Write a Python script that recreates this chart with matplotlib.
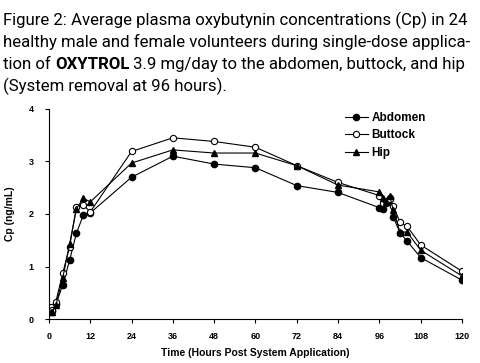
import matplotlib
matplotlib.use("Agg")
import matplotlib.pyplot as plt
import numpy as np

# sampling times (hours post system application)
hours = [0.5, 1, 2, 4, 6, 8, 10, 12, 24, 36, 48, 60, 72, 84,
         96, 97, 98, 99, 100, 102, 104, 108, 120]

# mean Cp (ng/mL) per application site
abdomen = [0.15, 0.15, 0.28, 0.65, 1.12, 1.64, 1.98, 2.02, 2.70, 3.10, 2.95, 2.88, 2.54, 2.41,
           2.12, 2.10, 2.20, 2.30, 1.95, 1.64, 1.49, 1.17, 0.74]
buttock = [0.23, 0.17, 0.33, 0.87, 1.38, 2.14, 2.17, 2.04, 3.19, 3.45, 3.38, 3.27, 2.92, 2.60,
           2.35, 2.20, 2.25, 2.28, 2.16, 1.84, 1.77, 1.41, 0.91]
hip = [0.14, 0.14, 0.26, 0.78, 1.43, 2.10, 2.30, 2.23, 2.97, 3.22, 3.16, 3.16, 2.92, 2.55,
       2.42, 2.30, 2.22, 2.35, 2.08, 1.65, 1.66, 1.31, 0.82]

xticks = np.arange(0, 121, 12)
yticks = [0, 1, 2, 3, 4]

caption = [
    "Figure 2: Average plasma oxybutynin concentrations (Cp) in 24",
    "healthy male and female volunteers during single-dose applica-",
    ("tion of ", "OXYTROL", " 3.9 mg/day to the abdomen, buttock, and hip"),
    "(System removal at 96 hours).",
]

title_font = ["Roboto", "DejaVu Sans"]
lab_font = ["Liberation Sans", "DejaVu Sans"]

fig = plt.figure(figsize=(4.8, 3.63), dpi=100)
ax = fig.add_axes([0.102, 0.121, 0.8605, 0.579])

ax.plot(hours, abdomen, color="black", lw=0.8, marker="o", ms=4.5,
        mfc="black", mec="black", label="Abdomen")
ax.plot(hours, buttock, color="black", lw=0.8, marker="o", ms=4.5,
        mfc="white", mec="black", mew=0.8, label="Buttock")
ax.plot(hours, hip, color="black", lw=0.8, marker="^", ms=5,
        mfc="black", mec="black", label="Hip")

ax.set_xlim(0, 120)
ax.set_ylim(0, 4)
ax.set_xticks(xticks)
ax.set_yticks(yticks)
ax.spines["top"].set_visible(False)
ax.spines["right"].set_visible(False)
ax.tick_params(direction="out", length=3, width=0.8, labelsize=6.5)
ax.tick_params(axis="y", pad=8)
ax.tick_params(axis="x", pad=6)
for lbl in ax.get_xticklabels() + ax.get_yticklabels():
    lbl.set_fontweight("bold")
    lbl.set_family(lab_font)

ax.set_xlabel("Time (Hours Post System Application)", fontsize=7.5,
              fontweight="bold", family=lab_font, labelpad=5)
ax.set_ylabel("Cp (ng/mL)", fontsize=7.5, fontweight="bold", family=lab_font, labelpad=10)

leg = ax.legend(loc="upper left", bbox_to_anchor=(0.69, 1.035), frameon=False,
                prop={"size": 8.5, "weight": "bold", "family": lab_font},
                handlelength=2.0, handletextpad=0.3, labelspacing=0.45)

# caption above the chart, fitted to the reference line width
renderer = fig.canvas.get_renderer()
x0 = 0.006
target_w = 467
fs = 13
probe = fig.text(x0, 0.5, caption[0], fontsize=fs, family=title_font, fontstretch="condensed")
w = probe.get_window_extent(renderer).width
probe.remove()
fs = fs * target_w / w

baselines = [25, 47, 69, 91]
for line, yb in zip(caption, baselines):
    y = 1 - yb / 363
    if isinstance(line, tuple):
        x = x0
        for i, part in enumerate(line):
            t = fig.text(x, y, part, fontsize=fs, family=title_font, fontstretch="condensed",
                         fontweight="bold" if i == 1 else "normal", va="baseline")
            x = t.get_window_extent(renderer).x1 / fig.bbox.width
    else:
        fig.text(x0, y, line, fontsize=fs, family=title_font, fontstretch="condensed",
                 va="baseline")

fig.savefig("out.png", dpi=100)
